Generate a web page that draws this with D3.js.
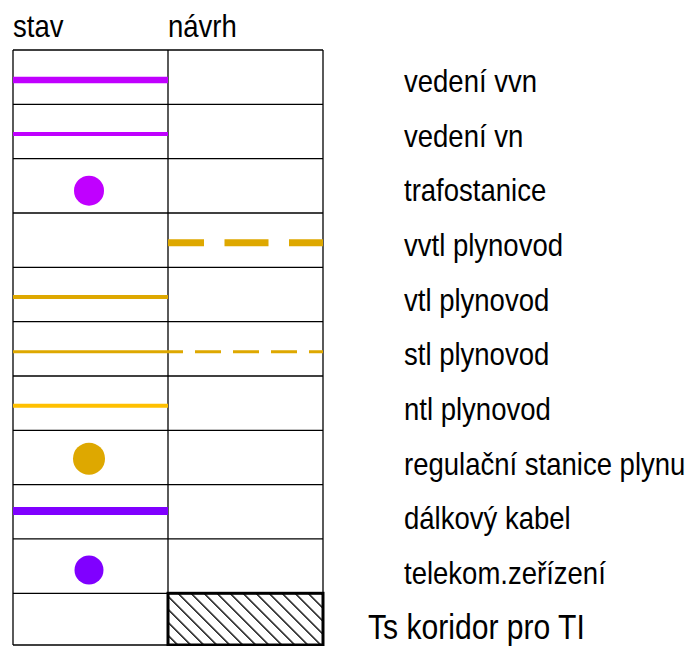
<!DOCTYPE html>
<html><head><meta charset="utf-8">
<script src="https://cdn.jsdelivr.net/npm/d3@7"></script>
<style>
html,body{margin:0;padding:0;background:#fff;}
text{font-family:"Liberation Sans",Arial,sans-serif;}
</style></head>
<body>
<script>
// ---- data ----
const headers = ["stav", "návrh"];
const labels = ["vedení vvn","vedení vn","trafostanice","vvtl plynovod","vtl plynovod","stl plynovod","ntl plynovod","regulační stanice plynu","dálkový kabel","telekom.zeřízení","Ts koridor pro TI"];
const stavMarks  = ["line","line","dot",null,"line","line","line","dot","line","dot",null];
const navrhMarks = [null,null,null,"dash",null,"dash",null,null,null,null,"hatch"];
const categoryGroups = ["elektro","elektro","elektro","plyn","plyn","plyn","plyn-ntl","plyn","telekom","telekom","koridor"];

// ---- styles ----
const groupColor = {"elektro":"#c000ff","plyn":"#dea800","plyn-ntl":"#ffc000","telekom":"#8000ff","koridor":"#000"};
const lineWidth = [6.5,4,0,7,4,3,4,0,8,0,0];
const dotR = [0,0,15,0,0,0,0,16,0,14.5,0];
const markOffset = [2.8,2.5,4.9,2.5,2.5,2.9,2.5,1.2,-0.8,3.8,0];
const dashStyle = {3:{a:"44,20.5",o:8},5:{a:"26,12",o:11}};
const narrow = 0.86;
const labelSize = (i)=> i===labels.length-1 ? 35 : 32;

const W = 687, H = 646;
const bottom = 645;
const svg = d3.select("body").append("svg").attr("width",W).attr("height",H);

const y = d3.scaleBand().domain(d3.range(labels.length)).range([50, 50 + 11*54.33]).paddingInner(0).paddingOuter(0);
const rowBottom = i => Math.min(y(i)+y.bandwidth(), bottom);
const x = d3.scaleOrdinal().domain(headers).range([13,168]);
const colW = 155;
const labelY = d3.scalePoint().domain(d3.range(labels.length)).range([92, 638.5]);

// hatch pattern
const defs = svg.append("defs");
const pat = defs.append("pattern").attr("id","hatch").attr("patternUnits","userSpaceOnUse")
  .attr("width",9.2).attr("height",9.2).attr("patternTransform","rotate(-45)");
pat.append("line").attr("x1",0).attr("y1",0).attr("x2",0).attr("y2",9.2)
  .attr("stroke","#000").attr("stroke-width",2.8);

// headers
svg.selectAll("text.hdr").data(headers).join("text").attr("class","hdr")
  .attr("transform",d=>`translate(${x(d)},37) scale(${narrow},1)`).attr("font-size",32).attr("fill","#000").text(d=>d);

// navrh hatch
const g = svg.append("g");
labels.forEach((lab,i)=>{
  const y0 = y(i);
  if(navrhMarks[i]==="hatch"){
    g.append("rect").attr("x",x("návrh")).attr("y",y0).attr("width",colW).attr("height",rowBottom(i)-y0)
      .attr("fill","url(#hatch)").attr("stroke","#000").attr("stroke-width",3);
  }
});

// grid
const grid = svg.append("g").attr("stroke","#000").attr("stroke-width",1.3);
d3.range(labels.length+1).forEach(i=>{
  const yy = i<labels.length ? y(i) : bottom;
  grid.append("line").attr("x1",13).attr("x2",323).attr("y1",yy).attr("y2",yy);
});
[13,168,323].forEach(xx=>grid.append("line").attr("x1",xx).attr("x2",xx).attr("y1",50).attr("y2",bottom));

// marks
labels.forEach((lab,i)=>{
  const y0 = y(i), yc = y0 + y.bandwidth()/2 + markOffset[i];
  const col = groupColor[categoryGroups[i]];
  if(stavMarks[i]==="line"){
    svg.append("line").attr("x1",x("stav")).attr("x2",x("stav")+colW).attr("y1",yc).attr("y2",yc)
      .attr("stroke",col).attr("stroke-width",lineWidth[i]);
  } else if(stavMarks[i]==="dot"){
    svg.append("circle").attr("cx",x("stav")+76).attr("cy",yc).attr("r",dotR[i]).attr("fill",col);
  }
  if(navrhMarks[i]==="dash"){
    svg.append("line").attr("x1",x("návrh")).attr("x2",x("návrh")+colW).attr("y1",yc).attr("y2",yc)
      .attr("stroke",col).attr("stroke-width",lineWidth[i])
      .attr("stroke-dasharray",dashStyle[i].a).attr("stroke-dashoffset",dashStyle[i].o);
  }
});

// labels
svg.selectAll("text.lab").data(labels).join("text").attr("class","lab")
  .attr("transform",(d,i)=>`translate(${i===labels.length-1 ? 368 : 404},${labelY(i)}) scale(${narrow},1)`)
  .attr("font-size",(d,i)=>labelSize(i)).attr("fill","#000").text(d=>d);
</script>
</body></html>
